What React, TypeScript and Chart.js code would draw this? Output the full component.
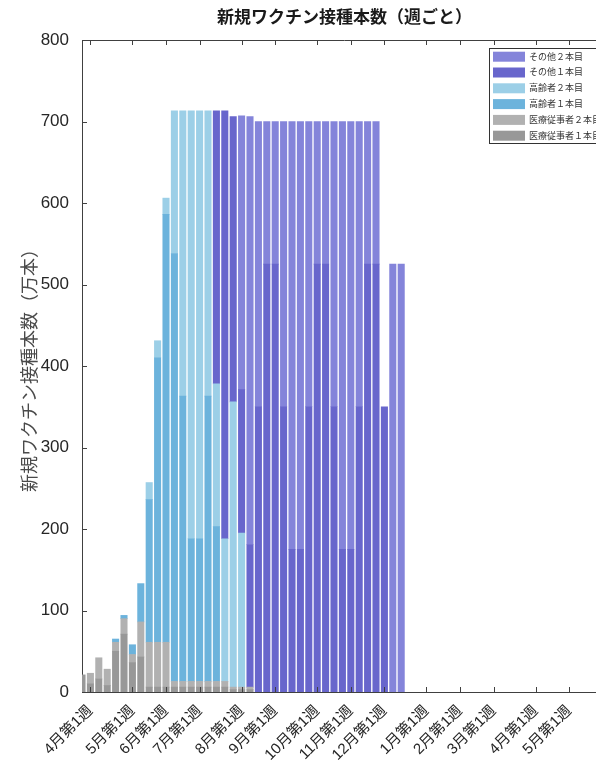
import React, { useEffect, useRef } from "react";
import { Chart, registerables } from "chart.js";

Chart.register(...registerables);

// Week start dates (Thursday-based weeks), index 0 = 3/25
const weekStarts = [
  "3/25", "4/1", "4/8", "4/15", "4/22", "4/29", "5/6", "5/13", "5/20", "5/27",
  "6/3", "6/10", "6/17", "6/24", "7/1", "7/8", "7/15", "7/22", "7/29", "8/5",
  "8/12", "8/19", "8/26", "9/2", "9/9", "9/16", "9/23", "9/30", "10/7", "10/14",
  "10/21", "10/28", "11/4", "11/11", "11/18", "11/25", "12/2", "12/9", "12/16",
];

// Tick positions (week index) and labels on the x axis
const tickWeekIndex = [1, 6, 10, 14, 19, 23, 28, 32, 36, 41, 45, 49, 54, 58];
const tickLabels = [
  "4月第1週", "5月第1週", "6月第1週", "7月第1週", "8月第1週", "9月第1週", "10月第1週",
  "11月第1週", "12月第1週", "1月第1週", "2月第1週", "3月第1週", "4月第1週", "5月第1週",
];

// Values in 万本, per week (stack order bottom -> top)
const iryo1 = [21, 10, 16, 8, 50, 71, 36, 43, 6, 6, 6, 6, 6, 6, 6, 6, 6, 6, 3, 3, 3, 0, 0, 0, 0, 0, 0, 0, 0, 0, 0, 0, 0, 0, 0, 0, 0, 0, 0];
const iryo2 = [0, 13, 26, 20, 11, 19, 10, 43, 55, 55, 55, 7, 7, 7, 7, 7, 7, 7, 3, 3, 3, 0, 0, 0, 0, 0, 0, 0, 0, 0, 0, 0, 0, 0, 0, 0, 0, 0, 0];
const kourei1 = [0, 0, 0, 0, 4, 4, 12, 47, 175, 349, 525, 525, 350, 175, 175, 350, 190, 0, 0, 0, 0, 0, 0, 0, 0, 0, 0, 0, 0, 0, 0, 0, 0, 0, 0, 0, 0, 0, 0];
const kourei2 = [0, 0, 0, 0, 0, 0, 0, 0, 21, 21, 20, 175, 350, 525, 525, 350, 175, 175, 350, 189, 0, 0, 0, 0, 0, 0, 0, 0, 0, 0, 0, 0, 0, 0, 0, 0, 0, 0, 0];
const sonota1 = [0, 0, 0, 0, 0, 0, 0, 0, 0, 0, 0, 0, 0, 0, 0, 0, 335, 525, 350, 176, 175, 350, 525, 525, 350, 175, 175, 350, 525, 525, 350, 175, 175, 350, 525, 525, 350, 0, 0];
const sonota2 = [0, 0, 0, 0, 0, 0, 0, 0, 0, 0, 0, 0, 0, 0, 0, 0, 0, 0, 0, 336, 525, 350, 175, 175, 350, 525, 525, 350, 175, 175, 350, 525, 525, 350, 175, 175, 0, 525, 525];

const seriesLabels = ["医療従事者１本目", "医療従事者２本目", "高齢者１本目", "高齢者２本目", "その他１本目", "その他２本目"];
const seriesValues = [iryo1, iryo2, kourei1, kourei2, sonota1, sonota2];
const seriesColors = ["#989898", "#b1b1b1", "#6cb3dc", "#9ccfe7", "#6866cc", "#8484da"];

const FONT = '"Liberation Sans", "Noto Sans CJK JP", sans-serif';

const framePlugin = {
  id: "frame",
  afterDraw(chart: any) {
    const { ctx, chartArea } = chart;
    const { left, right, top, bottom } = chartArea;
    const xs = chart.scales.x;
    const ys = chart.scales.y;
    ctx.save();
    ctx.strokeStyle = "#404040";
    ctx.lineWidth = 1;
    ctx.beginPath();
    ctx.moveTo(left, top + 0.5);
    ctx.lineTo(right, top + 0.5);
    ctx.moveTo(right - 0.5, top);
    ctx.lineTo(right - 0.5, bottom);
    xs.ticks.forEach((t: any) => {
      const px = Math.round(xs.getPixelForValue(t.value)) + 0.5;
      ctx.moveTo(px, bottom);
      ctx.lineTo(px, bottom - 5);
      ctx.moveTo(px, top);
      ctx.lineTo(px, top + 5);
    });
    ys.ticks.forEach((t: any) => {
      const py = Math.round(ys.getPixelForValue(t.value)) + 0.5;
      ctx.moveTo(left, py);
      ctx.lineTo(left + 5, py);
      ctx.moveTo(right, py);
      ctx.lineTo(right - 5, py);
    });
    ctx.stroke();
    ctx.restore();
  },
};

const legendPlugin = {
  id: "boxLegend",
  afterDraw(chart: any) {
    const { ctx } = chart;
    const ds = chart.data.datasets.slice().reverse();
    const boxL = 489.5, boxT = 48.5, boxW = 116, boxH = 95;
    ctx.save();
    ctx.fillStyle = "#ffffff";
    ctx.fillRect(boxL, boxT, boxW, boxH);
    ctx.strokeStyle = "#333333";
    ctx.lineWidth = 1;
    ctx.strokeRect(boxL, boxT, boxW, boxH);
    ctx.font = `9px ${FONT}`;
    ctx.textBaseline = "middle";
    ctx.textAlign = "left";
    ds.forEach((d: any, k: number) => {
      const cy = 56.7 + k * 15.8;
      ctx.fillStyle = d.backgroundColor;
      ctx.fillRect(493, cy - 5, 32, 10);
      ctx.fillStyle = "#333333";
      ctx.fillText(d.label, 529, cy + 0.5);
    });
    ctx.restore();
  },
};

export default function App() {
  const ref = useRef<HTMLCanvasElement | null>(null);
  useEffect(() => {
    if (!ref.current) return;
    const chart = new Chart(ref.current, {
      type: "bar",
      data: {
        labels: weekStarts,
        datasets: seriesLabels.map((label, s) => ({
          label,
          data: seriesValues[s].map((v, i) => ({ x: i, y: v === 0 ? null : v })),
          backgroundColor: seriesColors[s],
          borderWidth: 0,
          barThickness: 6.4,
          clip: 0,
        })),
      } as any,
      options: {
        animation: false,
        responsive: false,
        devicePixelRatio: 1,
        layout: { padding: { left: 0, right: 13, top: 0, bottom: 0 } },
        plugins: {
          legend: { display: false },
          tooltip: { enabled: false },
          title: {
            display: true,
            text: "新規ワクチン接種本数（週ごと）",
            font: { size: 17, weight: "bold", family: FONT },
            color: "#1a1a1a",
            padding: { top: 8, bottom: 11.6 },
            fullSize: false,
          } as any,
        },
        scales: {
          x: {
            type: "linear",
            stacked: true,
            offset: false,
            min: 0,
            max: 62.5,
            z: 1,
            grid: { display: false, offset: false },
            border: { display: true, color: "#404040", width: 1 },
            ticks: {
              autoSkip: false,
              maxRotation: 45,
              minRotation: 45,
              padding: 2,
              color: "#262626",
              font: { size: 15, family: FONT },
              callback: (v: any) => {
                const k = tickWeekIndex.indexOf(Number(v));
                return k >= 0 ? tickLabels[k] : "";
              },
            },
            afterBuildTicks: (s: any) => {
              s.ticks = tickWeekIndex.map((v) => ({ value: v }));
            },
            afterFit: (s: any) => {
              s.height = 72;
            },
          },
          y: {
            stacked: true,
            min: 0,
            max: 800,
            z: 1,
            grid: { display: false },
            border: { display: true, color: "#404040", width: 1 },
            ticks: {
              stepSize: 100,
              padding: 5,
              color: "#262626",
              font: { size: 17, family: FONT },
            },
            title: {
              display: true,
              text: "新規ワクチン接種本数（万本）",
              color: "#4a4a4a",
              font: { size: 18, family: FONT },
              padding: { top: 20, bottom: 0 },
            },
            afterFit: (s: any) => {
              s.width = 82;
            },
          },
        },
      } as any,
      plugins: [framePlugin, legendPlugin],
    });
    return () => chart.destroy();
  }, []);

  return (
    <div style={{ position: "fixed", left: 0, top: 0, width: 596, height: 764, overflow: "hidden", background: "#fff" }}>
      <canvas ref={ref} width={620} height={764} style={{ width: 620, height: 764, display: "block" }} />
    </div>
  );
}
